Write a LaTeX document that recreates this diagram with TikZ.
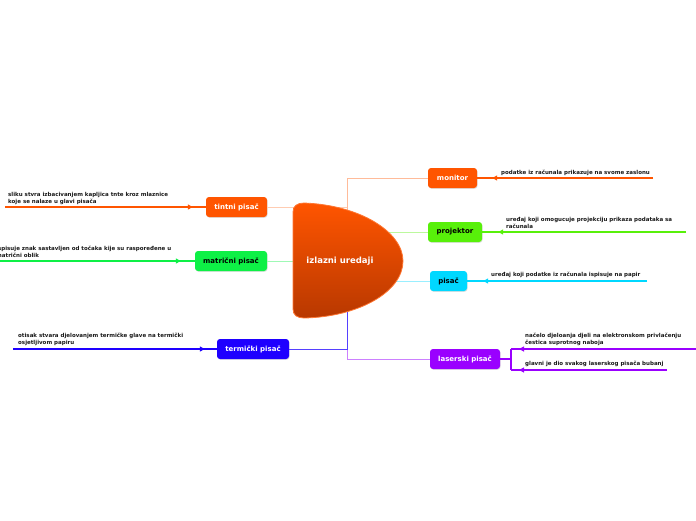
\documentclass[tikz,border=0pt]{standalone}
\usepackage{fontspec}
\setmainfont{DejaVu Sans}
\usetikzlibrary{arrows.meta,decorations.markings,shadows}
\definecolor{MonOrange}{RGB}{255,85,0}
\definecolor{HubDark}{RGB}{184,56,0}
\definecolor{MatGreen}{RGB}{14,240,70}
\definecolor{ProGreen}{RGB}{88,240,10}
\definecolor{PisCyan}{RGB}{0,216,255}
\definecolor{TerBlue}{RGB}{30,0,255}
\definecolor{LasPurple}{RGB}{154,0,255}

\tikzset{
  topic/.style={rounded corners=3pt, minimum height=20pt, inner xsep=6pt,
    font=\fontsize{7}{8}\selectfont\bfseries,
    drop shadow={opacity=0.25,shadow xshift=0.6pt,shadow yshift=-0.8pt}},
  link/.style={draw=#1, line width=0.9pt},
  leafline/.style={draw=#1, line width=1.1pt, postaction={decorate}},
  tipmark/.style={decoration={markings,
    mark=at position -#1 with {\arrow{Triangle[length=5pt,width=5pt]}}}},
  leaftext/.style={anchor=south west, inner sep=0pt, align=left,
    font=\fontsize{5.5}{7}\selectfont\bfseries, text=black!90}
}

\begin{document}
\begin{tikzpicture}[x=1pt,y=-1pt]
  \useasboundingbox (0,0) rectangle (696,520);

  % main topics
  \coordinate (hub) at (347,261);
  \node[topic, fill=MonOrange, text=white, minimum width=49pt] (monitor) at (452.5,178) {monitor};
  \node[topic, fill=ProGreen, text=black, minimum width=54pt] (projektor) at (455,232) {projektor};
  \node[topic, fill=PisCyan, text=black, minimum width=37pt] (pisac) at (448.5,281) {pisač};
  \node[topic, fill=LasPurple, text=white, minimum width=70pt] (laserski) at (465,359) {laserski pisač};
  \node[topic, fill=MonOrange, text=white, minimum width=61pt] (tintni) at (236.5,207) {tintni pisač};
  \node[topic, fill=MatGreen, text=black, minimum width=72pt] (matricni) at (231,261) {matrični pisač};
  \node[topic, fill=TerBlue, text=white, minimum width=72pt] (termicki) at (253,349) {termički pisač};

  % links to the centre
  \draw[link=MonOrange!40] (monitor.west) -| (hub);
  \draw[link=ProGreen!40] (projektor.west) -- (projektor.west -| hub);
  \draw[link=PisCyan!40] (pisac.west) -- (pisac.west -| hub);
  \draw[link=LasPurple!50] (laserski.west) -| (hub);
  \draw[link=TerBlue!75] (termicki.east) -| (hub);
  \draw[link=MonOrange!30] (tintni.east) -- (tintni.east -| hub);
  \draw[link=MatGreen!40] (matricni.east) -- (matricni.east -| hub);

  % centre
  \shade[top color=MonOrange, bottom color=HubDark, draw=MonOrange!80, line width=0.8pt]
    (293,212) .. controls (293,206) and (297,203) .. (304,203)
    .. controls (360,205) and (403,232) .. (403,261)
    .. controls (403,292) and (358,317) .. (304,318)
    .. controls (297,318) and (293,315) .. (293,309) -- cycle;
  \node[text=white, font=\fontsize{8.5}{10}\selectfont\bfseries] (main) at (340,261) {izlazni uredaji};

  % leaves
  \coordinate (monitor-end) at (653,178);
  \coordinate (projektor-end) at (686,232);
  \coordinate (pisac-end) at (647,281);
  \coordinate (tintni-end) at (5,207);
  \coordinate (matricni-end) at (-2,261);
  \coordinate (termicki-end) at (13,349);
  \coordinate (laser-fork) at (511,359);
  \coordinate (laser-a) at (511,349);
  \coordinate (laser-b) at (511,370);
  \coordinate (laser-a-end) at (696,349);
  \coordinate (laser-b-end) at (667,370);

  \draw[leafline=MonOrange, tipmark=15pt] (monitor-end) -- (monitor.east);
  \draw[leafline=ProGreen, tipmark=16pt] (projektor-end) -- (projektor.east);
  \draw[leafline=PisCyan, tipmark=16pt] (pisac-end) -- (pisac.east);
  \draw[leafline=MonOrange, tipmark=13pt] (tintni-end) -- (tintni.west);
  \draw[leafline=MatGreen, tipmark=14pt] (matricni-end) -- (matricni.west);
  \draw[leafline=TerBlue, tipmark=12pt] (termicki-end) -- (termicki.west);
  \draw[leafline=LasPurple] (laserski.east) -- (laser-fork);
  \draw[leafline=LasPurple] (laser-a) -- (laser-b);
  \draw[leafline=LasPurple, tipmark=8pt] (laser-a-end) -- (laser-a);
  \draw[leafline=LasPurple, tipmark=8pt] (laser-b-end) -- (laser-b);

  \node[leaftext] (monitor-note) at (501,175.5) {podatke iz računala prikazuje na svome zaslonu};
  \node[leaftext] (projektor-note) at (506,229) {uređaj koji omogucuje projekciju prikaza podataka sa\\računala};
  \node[leaftext] (pisac-note) at (491,278) {uređaj koji podatke iz računala ispisuje na papir};
  \node[leaftext] (laser-a-note) at (525,346) {načelo djeloanja djeli na elektronskom privlačenju\\čestica suprotnog naboja};
  \node[leaftext] (laser-b-note) at (525,367) {glavni je dio svakog laserskog pisača bubanj};
  \node[leaftext] (tintni-note) at (8,204.5) {sliku stvra izbacivanjem kapljica tnte kroz mlaznice\\koje se nalaze u glavi pisača};
  \node[leaftext] (matricni-note) at (-4,258) {ispisuje znak sastavljen od točaka kije su raspoređene u\\matrični oblik};
  \node[leaftext] (termicki-note) at (18,346) {otisak stvara djelovanjem termičke glave na termički\\osjetljivom papiru};
\end{tikzpicture}
\end{document}
